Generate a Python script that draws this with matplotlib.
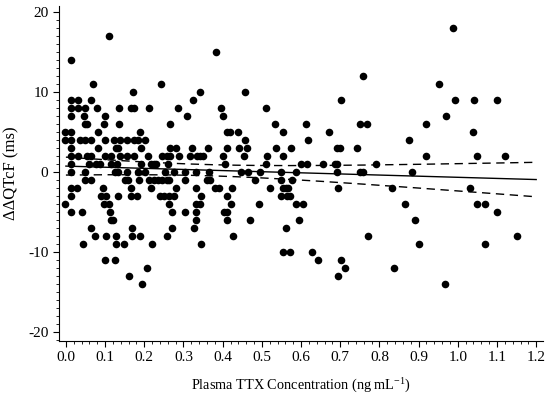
"""Scatter of change in QTcF against plasma TTX concentration, with linear fit."""

from __future__ import annotations

import matplotlib

matplotlib.use("Agg")
import matplotlib.pyplot as plt
import numpy as np
from matplotlib.ticker import MultipleLocator


# plasma TTX concentration (ng/mL), one row per ddQTcF level
conc = [
    0.988,
    0.110,
    0.383,
    0.012,
    0.757,
    0.069, 0.242, 0.952,
    0.171, 0.342, 0.458,
    0.012, 0.031, 0.065, 0.325, 0.702, 0.992, 1.041, 1.100,
    0.012, 0.031, 0.049, 0.080, 0.135, 0.165, 0.175, 0.213, 0.285, 0.395, 0.510,
    0.012, 0.046, 0.101, 0.309, 0.401, 0.969,
    0.048, 0.054, 0.097, 0.135, 0.265, 0.533, 0.612, 0.750, 0.769, 0.918,
    -0.002, 0.012, 0.083, 0.188, 0.412, 0.418, 0.438, 0.554, 0.671, 1.038,
    -0.002, 0.012, 0.037, 0.049, 0.063, 0.101, 0.122, 0.137, 0.156, 0.173, 0.184, 0.201, 0.457, 0.619, 0.876,
    0.012, 0.082, 0.128, 0.133, 0.192, 0.265, 0.282, 0.321, 0.363, 0.412, 0.441, 0.463, 0.536, 0.575, 0.692, 0.699, 0.743,
    0.012, 0.032, 0.054, 0.063, 0.101, 0.116, 0.137, 0.156, 0.175, 0.209, 0.244, 0.259, 0.265, 0.288, 0.316, 0.335, 0.342, 0.349, 0.401, 0.455, 0.514, 0.554, 0.920, 1.050, 1.120,
    0.012, 0.060, 0.077, 0.086, 0.116, 0.131, 0.192, 0.218, 0.226, 0.231, 0.261, 0.406, 0.510, 0.599, 0.614, 0.655, 0.686, 0.692, 0.791,
    0.012, 0.048, 0.124, 0.133, 0.156, 0.184, 0.202, 0.253, 0.276, 0.305, 0.333, 0.365, 0.448, 0.465, 0.495, 0.550, 0.587, 0.692, 0.750, 0.757, 0.883,
    0.048, 0.065, 0.150, 0.158, 0.186, 0.213, 0.226, 0.235, 0.246, 0.257, 0.263, 0.305, 0.359, 0.367, 0.482, 0.550, 0.576,
    0.012, 0.029, 0.094, 0.165, 0.216, 0.280, 0.333, 0.380, 0.391, 0.423, 0.522, 0.554, 0.561, 0.567, 0.695, 0.832, 1.031,
    0.012, 0.090, 0.103, 0.133, 0.167, 0.182, 0.240, 0.251, 0.263, 0.276, 0.344, 0.410, 0.550, 0.563, 0.573,
    -0.002, 0.097, 0.111, 0.263, 0.331, 0.342, 0.421, 0.493, 0.587, 0.604, 0.866, 1.049, 1.070,
    0.012, 0.042, 0.113, 0.270, 0.305, 0.333, 0.403, 0.412, 1.100,
    0.116, 0.120, 0.333, 0.412, 0.469, 0.594, 0.892,
    0.065, 0.168, 0.270, 0.327, 0.561,
    0.075, 0.103, 0.128, 0.168, 0.188, 0.259, 0.427, 0.771, 1.150,
    0.043, 0.128, 0.148, 0.219, 0.344, 0.900, 1.070,
    0.554, 0.571, 0.629,
    0.101, 0.124, 0.644, 0.703,
    0.207, 0.712, 0.837,
    0.162, 0.694,
    0.194, 0.968,
]

# change from baseline in QTcF (ms), same order as conc
ddqtcf = [
    18,
    17,
    15,
    14,
    12,
    11, 11, 11,
    10, 10, 10,
    9, 9, 9, 9, 9, 9, 9, 9,
    8, 8, 8, 8, 8, 8, 8, 8, 8, 8, 8,
    7, 7, 7, 7, 7, 7,
    6, 6, 6, 6, 6, 6, 6, 6, 6, 6,
    5, 5, 5, 5, 5, 5, 5, 5, 5, 5,
    4, 4, 4, 4, 4, 4, 4, 4, 4, 4, 4, 4, 4, 4, 4,
    3, 3, 3, 3, 3, 3, 3, 3, 3, 3, 3, 3, 3, 3, 3, 3, 3,
    2, 2, 2, 2, 2, 2, 2, 2, 2, 2, 2, 2, 2, 2, 2, 2, 2, 2, 2, 2, 2, 2, 2, 2, 2,
    1, 1, 1, 1, 1, 1, 1, 1, 1, 1, 1, 1, 1, 1, 1, 1, 1, 1, 1,
    0, 0, 0, 0, 0, 0, 0, 0, 0, 0, 0, 0, 0, 0, 0, 0, 0, 0, 0, 0, 0,
    -1, -1, -1, -1, -1, -1, -1, -1, -1, -1, -1, -1, -1, -1, -1, -1, -1,
    -2, -2, -2, -2, -2, -2, -2, -2, -2, -2, -2, -2, -2, -2, -2, -2, -2,
    -3, -3, -3, -3, -3, -3, -3, -3, -3, -3, -3, -3, -3, -3, -3,
    -4, -4, -4, -4, -4, -4, -4, -4, -4, -4, -4, -4, -4,
    -5, -5, -5, -5, -5, -5, -5, -5, -5,
    -6, -6, -6, -6, -6, -6, -6,
    -7, -7, -7, -7, -7,
    -8, -8, -8, -8, -8, -8, -8, -8, -8,
    -9, -9, -9, -9, -9, -9, -9,
    -10, -10, -10,
    -11, -11, -11, -11,
    -12, -12, -12,
    -13, -13,
    -14, -14,
]

# range over which the fitted line is drawn
fit_range = [0.0, 1.2]


def main() -> int:
    plt.rcParams["font.family"] = ["Liberation Serif", "DejaVu Serif"]
    plt.rcParams["axes.unicode_minus"] = False
    plt.rcParams["mathtext.fontset"] = "custom"
    plt.rcParams["mathtext.rm"] = "Liberation Serif"

    x = np.asarray(conc)
    y = np.asarray(ddqtcf, dtype=float)

    # ordinary least squares with 95% confidence band for the mean
    slope, intercept = np.polyfit(x, y, 1)
    n = len(x)
    resid = y - (intercept + slope * x)
    s = np.sqrt(np.sum(resid**2) / (n - 2))
    sxx = np.sum((x - x.mean()) ** 2)
    xf = np.linspace(fit_range[0], fit_range[1], 200)
    yf = intercept + slope * xf
    half = 1.97 * s * np.sqrt(1.0 / n + (xf - x.mean()) ** 2 / sxx)

    fig = plt.figure(figsize=(5.5, 3.95), dpi=100)
    ax = fig.add_axes([0.107, 0.137, 0.88, 0.848])

    ax.scatter(x, y, s=30, color="black", linewidths=0, zorder=3)
    ax.plot(xf, yf, color="black", lw=1.0, zorder=2)
    ax.plot(xf, yf + half, color="black", lw=1.0, ls=(0, (6, 4)), zorder=2)
    ax.plot(xf, yf - half, color="black", lw=1.0, ls=(0, (6, 4)), zorder=2)

    ax.set_xlim(-0.018, 1.217)
    ax.set_ylim(-21.1, 20.75)
    ax.xaxis.set_major_locator(MultipleLocator(0.1))
    ax.xaxis.set_minor_locator(MultipleLocator(0.02))
    ax.yaxis.set_major_locator(MultipleLocator(10))
    ax.yaxis.set_minor_locator(MultipleLocator(1))
    ax.xaxis.set_major_formatter(lambda v, pos: f"{v:.1f}")
    ax.yaxis.set_major_formatter(lambda v, pos: f"{v:.0f}")

    for side in ("top", "right"):
        ax.spines[side].set_visible(False)
    ax.tick_params(which="major", length=4, width=0.8, labelsize=11, direction="out")
    ax.tick_params(which="minor", length=2, width=0.6, direction="out")

    ax.set_xlabel("Plasma TTX Concentration (ng mL$^{-1}$)", fontsize=10.3, labelpad=8)
    ax.set_ylabel("ΔΔQTcF (ms)", fontsize=12, labelpad=6)

    fig.savefig("out.png", dpi=100)
    plt.close(fig)
    return 0


if __name__ == "__main__":
    raise SystemExit(main())
